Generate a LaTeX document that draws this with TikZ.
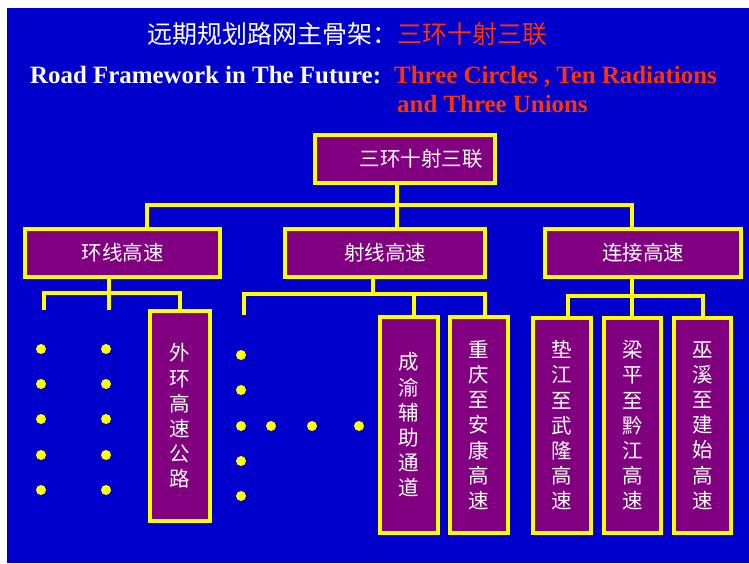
\documentclass[tikz,border=0pt]{standalone}
\usepackage{fontspec}
\setmainfont{Liberation Serif}
\newfontfamily\cjk{Noto Sans CJK SC}
\definecolor{bgblue}{HTML}{0000CC}
\definecolor{pur}{HTML}{800080}
\definecolor{yel}{HTML}{FFFF00}
\definecolor{redt}{HTML}{FF3300}
\begin{document}
\begin{tikzpicture}[x=1pt,y=-1pt,
  box/.style={rectangle, draw=yel, fill=pur, line width=4pt, inner sep=0pt, text=white,
    font=\cjk\fontsize{20.5}{25.2}\selectfont, align=center},
  link/.style={draw=yel, line width=4pt},
  dot/.style={circle, fill=yel, minimum size=10pt, inner sep=0pt},
  ttl/.style={anchor=base west, inner sep=0pt}]
\useasboundingbox (0,0) rectangle (749,563);
\fill[white] (0,0) rectangle (749,563);
\fill[bgblue] (7,8) rectangle (749,563);

% titles
\node[ttl, text=white, font=\cjk\fontsize{25}{25}\selectfont] (t1) at (147,43) {远期规划路网主骨架：};
\node[ttl, text=redt, font=\cjk\fontsize{25}{25}\selectfont] (t1r) at (t1.base east) {三环十射三联};
\node[ttl, text=white, font=\bfseries\fontsize{24.9}{29}\selectfont] (t2) at (30,83) {Road Framework in The Future:};
\node[ttl, text=redt, font=\bfseries\fontsize{24.9}{29}\selectfont] (t2r) at (394,83) {Three Circles , Ten Radiations};
\node[ttl, text=redt, font=\bfseries\fontsize{24.9}{29}\selectfont] (t3r) at (397,112) {and Three Unions};

% boxes
\node[box, minimum width=180pt, minimum height=48pt] (top) at (405,159) {\hspace*{32pt}三环十射三联};
\node[box, minimum width=195pt, minimum height=48pt] (r1) at (122.5,253) {环线高速};
\node[box, minimum width=200pt, minimum height=48pt] (r2) at (385,253) {射线高速};
\node[box, minimum width=196pt, minimum height=48pt] (r3) at (643,253) {连接高速};

\node[box, minimum width=60pt, minimum height=210pt] (c1) at (180,416) {外\\环\\高\\速\\公\\路};
\node[box, minimum width=58pt, minimum height=216pt] (s1) at (409,425) {成\\渝\\辅\\助\\通\\道};
\node[box, minimum width=58pt, minimum height=216pt] (s2) at (479,425) {重\\庆\\至\\安\\康\\高\\速};
\node[box, minimum width=58pt, minimum height=215pt] (j1) at (562,425.5) {垫\\江\\至\\武\\隆\\高\\速};
\node[box, minimum width=57pt, minimum height=215pt] (j2) at (632.5,425.5) {梁\\平\\至\\黔\\江\\高\\速};
\node[box, minimum width=57pt, minimum height=215pt] (j3) at (702.5,425.5) {巫\\溪\\至\\建\\始\\高\\速};

% level 1 connectors
\coordinate (bus1) at (0,205);
\coordinate (topbot) at ([xshift=-8pt]top.south);
\coordinate (r1top) at ([xshift=24.5pt]r1.north);
\coordinate (r3top) at ([xshift=-11pt]r3.north);
\draw[link] (topbot) -- (topbot |- r2.north);
\draw[link] (r1top) |- (bus1 -| r3top) -- (r3top);

% level 2 connectors: ring
\coordinate (bus2) at (0,293);
\coordinate (h1) at (44,310);
\coordinate (h2) at (109,310);
\coordinate (r1bot) at ([xshift=-13.5pt]r1.south);
\draw[link] (h1) |- (bus2 -| c1.north) -- (c1.north);
\draw[link] (r1bot) -- (r1bot |- h2);

% radial
\coordinate (bus3) at (0,294);
\coordinate (h3) at (244,315);
\coordinate (r2bot) at ([xshift=-12pt]r2.south);
\coordinate (s1top) at ([xshift=5pt]s1.north);
\coordinate (s2top) at ([xshift=6pt]s2.north);
\draw[link] (h3) |- (bus3 -| s2top) -- (s2top);
\draw[link] (r2bot) -- (bus3 -| r2bot);
\draw[link] (s1top) -- (bus3 -| s1top);

% link
\coordinate (bus4) at (0,296);
\coordinate (r3bot) at ([xshift=-11pt]r3.south);
\coordinate (j1top) at ([xshift=6pt]j1.north);
\draw[link] (j1top) |- (bus4 -| j3.north) -- (j3.north);
\draw[link] (r3bot) -- (r3bot |- j2.north);

% dots
\foreach \y [count=\i] in {349,384,419,455,490} {
  \node[dot] (da\i) at (41,\y) {};
  \node[dot] (db\i) at (106,\y) {};
}
\foreach \y [count=\i] in {355,390,426,461,496} {
  \node[dot] (dc\i) at (241,\y) {};
}
\foreach \x [count=\i] in {271,312,359} {
  \node[dot] (dd\i) at (\x,426) {};
}
\end{tikzpicture}
\end{document}
